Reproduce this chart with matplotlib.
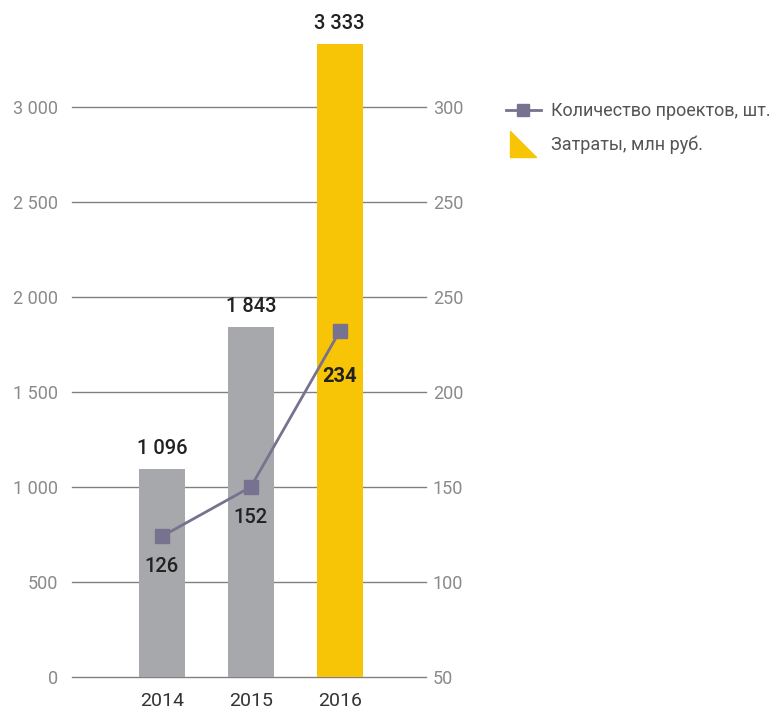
import matplotlib
matplotlib.use("Agg")
import matplotlib.pyplot as plt
from matplotlib.lines import Line2D
from matplotlib.path import Path

years = ["2014", "2015", "2016"]
costs = [1096, 1843, 3333]
cost_labels = ["1 096", "1 843", "3 333"]
projects = [126, 152, 234]
left_ticks = [0, 500, 1000, 1500, 2000, 2500, 3000]
left_tick_labels = ["0", "500", "1 000", "1 500", "2 000", "2 500", "3 000"]
right_tick_labels = ["50", "100", "150", "200", "250", "250", "300"]
legend_labels = ["Количество проектов, шт.", "Затраты, млн руб."]

bar_colors = ["#a7a8ab", "#a7a8ab", "#f7c505"]
line_color = "#77728f"
grid_color = "#808080"
tick_color = "#8a8a8a"

plt.rcParams['font.family'] = ['Roboto', 'DejaVu Sans']

fig = plt.figure(figsize=(7.82, 7.11), dpi=100)
ax = fig.add_axes([72/782, (711-677)/711, (426-72)/782, 647/711])
x = list(range(len(years)))
ymax = 647/0.19
ax.set_xlim(-1.01, 2.97)
ax.set_ylim(0, ymax)

for t in left_ticks:
    ax.axhline(t, color=grid_color, lw=1, zorder=1, clip_on=False)
ax.bar(x, costs, width=0.52, color=bar_colors, zorder=2)

for xi, v, lab, in zip(x, costs, cost_labels):
    ax.annotate(lab, (xi, v), xytext=(0, 8), textcoords="offset points",
                ha="center", va="bottom", fontsize=14.5, color="#222222",
                fontweight="medium")

ax.set_yticks(left_ticks)
ax.set_yticklabels(left_tick_labels)
ax.tick_params(axis="y", length=0, pad=10, labelsize=13, labelcolor=tick_color)
ax.set_xticks(x)
ax.set_xticklabels(years)
ax.tick_params(axis="x", length=0, pad=11, labelsize=14, labelcolor="#333333")
for s in ax.spines.values():
    s.set_visible(False)

ax2 = ax.twinx()
off = 52
ax2.set_ylim(off, off + ymax/10)
ax2.plot(x, projects, color=line_color, lw=2, marker="s", markersize=10, zorder=3)
label_offsets = [-15, -15, -26]
for i, (xi, v) in enumerate(zip(x, projects)):
    ax2.annotate(str(v), (xi, v), xytext=(0, label_offsets[i]), textcoords="offset points",
                 ha="center", va="top", fontsize=14.5, color="#222222",
                 fontweight="bold" if i == 2 else "medium")
ax2.set_yticks([off + t/10 for t in left_ticks])
ax2.set_yticklabels(right_tick_labels)
ax2.tick_params(axis="y", length=0, pad=5, labelsize=13, labelcolor=tick_color)
for s in ax2.spines.values():
    s.set_visible(False)

tri = Path([(-1, 1), (-1, -1), (1, -1), (-1, 1)],
           [Path.MOVETO, Path.LINETO, Path.LINETO, Path.CLOSEPOLY])
handles = [
    Line2D([], [], color=line_color, lw=2, marker="s", markersize=9),
    Line2D([], [], color="#f7c505", lw=0, marker=tri, markersize=19),
]
fig.legend(handles, legend_labels, loc="upper left", bbox_to_anchor=(490/782, 1 - 86/711),
           frameon=False, fontsize=13, labelcolor="#555555", handlelength=1.9,
           handletextpad=0.6, labelspacing=0.85)

fig.savefig("out.png", dpi=100)
